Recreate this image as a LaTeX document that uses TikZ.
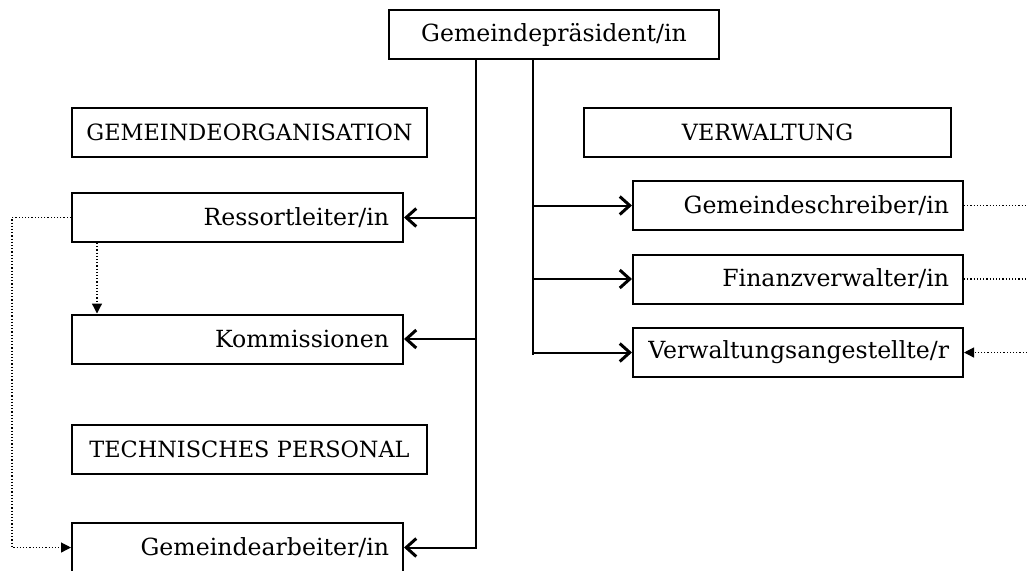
\documentclass[tikz,border=0pt]{standalone}
\usepackage{fontspec}
\setmainfont{DejaVu Serif}
\usetikzlibrary{arrows.meta}

\begin{document}
\begin{tikzpicture}[x=.5pt,y=-.5pt,
		box/.style={draw, line width=1pt, inner xsep=7pt, inner ysep=0pt, minimum height=24.5pt, font=\fontsize{11.8}{14}\selectfont},
		boxr/.style={box, align=right, text width=151.5pt},
		boxc/.style={box, align=center},
		caps/.style={boxc, inner xsep=2pt, font=\fontsize{11.2}{14}\selectfont},
		conn/.style={line width=1pt, -{Straight Barb[length=5pt,width=9pt,line width=1.5pt]}},
		dots/.style={densely dotted, line width=.6pt},
		dotarr/.style={dots, -{Triangle[length=5pt,width=5pt]}}]
			\useasboundingbox (0,0) rectangle (1027,570);
			
			\node [boxc, text width=151pt] (pres) at (554,34.5) {Gemeindepräsident/in};
			\node [caps, text width=173.5pt] (org) at (249.5,132) {GEMEINDEORGANISATION};
			\node [caps, text width=179.5pt] (verw) at (767.5,132) {VERWALTUNG};
			\node [caps, text width=173.5pt] (tech) at (249.5,449) {TECHNISCHES PERSONAL};
			
			\node [boxr] (ress) at (237.5,217.5) {Ressortleiter/in};
			\node [boxr] (komm) at (237.5,339) {Kommissionen};
			\node [boxr] (arb) at (237.5,547.5) {Gemeindearbeiter/in};
			
			\node [boxr, text width=151pt] (schr) at (798,205.5) {Gemeindeschreiber/in};
			\node [boxr, text width=151pt] (fin) at (798,279) {Finanzverwalter/in};
			\node [boxr, text width=151pt] (ang) at (798,352.5) {Verwaltungsangestellte/r};
			
			% Stammlinien
			\coordinate (lt) at (476,59); \coordinate (rt) at (533,59); \coordinate (rb) at (533,355);
			\draw [conn] (lt) |- (arb.east);
			\draw [conn] (lt |- ress.east) -- (ress.east);
			\draw [conn] (lt |- komm.east) -- (komm.east);
			\draw [line width=1pt] (rt) -- (rb);
			\draw [conn] (rt |- schr.west) -- (schr.west);
			\draw [conn] (rt |- fin.west) -- (fin.west);
			\draw [conn] (rt |- ang.west) -- (ang.west);
			
			% gepunktete Verbindungen
			\coordinate (lx) at (12,0); \coordinate (dx) at (97,0); \coordinate (rx) at (1027,0);
			\draw [dotarr] (ress.west) -- (ress.west -| lx) -- (arb.west -| lx) -- (arb.west);
			\draw [dotarr] (dx |- ress.south) -- (dx |- komm.north);
			\draw [dots] (schr.east) -- (schr.east -| rx);
			\draw [dots] (fin.east) -- (fin.east -| rx);
			\draw [dotarr] (ang.east -| rx) -- (ang.east);
			\end{tikzpicture}
\end{document}
